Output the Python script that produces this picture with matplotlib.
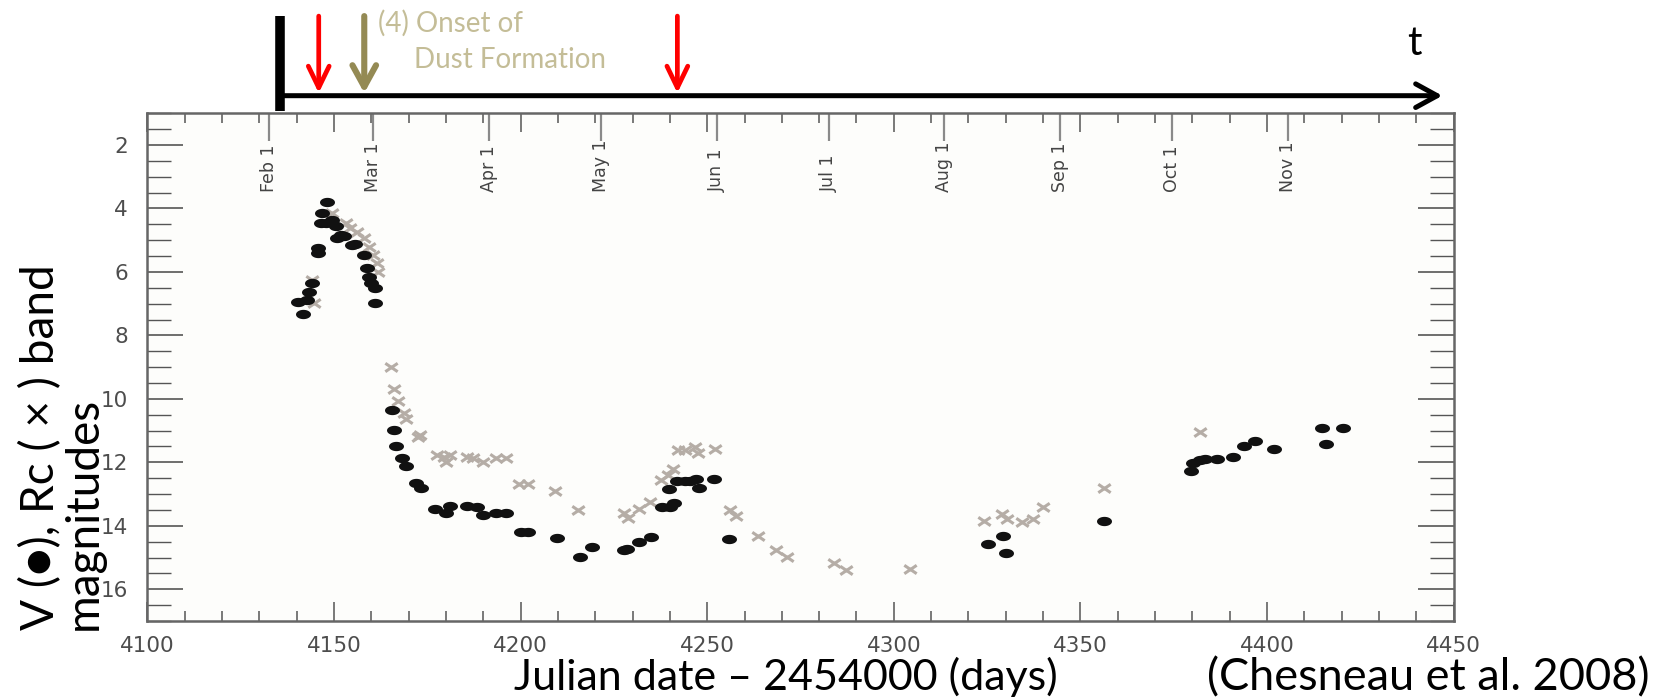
import numpy as np
import matplotlib
matplotlib.use("Agg")
import matplotlib.pyplot as plt
import matplotlib.transforms as mtransforms
from matplotlib.path import Path
from matplotlib.lines import Line2D
from matplotlib.patches import FancyArrowPatch
from matplotlib.ticker import MultipleLocator

# V band (filled dots): Julian date - 2454000, magnitude
v_days = [4140.4, 4141.8, 4142.8, 4143.2, 4144.0, 4145.6, 4145.8, 4146.6, 4146.8,
          4148.2, 4147.8, 4149.5, 4150.4, 4150.9, 4151.8, 4152.8, 4154.7, 4155.6,
          4158.1, 4158.8, 4159.5, 4160.0, 4161.1, 4161.1,
          4165.4, 4166.2, 4166.7, 4168.3, 4169.3, 4171.9, 4173.4, 4177.0, 4180.1,
          4181.1, 4185.7, 4188.3, 4189.8, 4193.4, 4196.0, 4200.1, 4202.1, 4209.8,
          4216.0, 4219.0, 4227.7, 4228.6, 4231.8, 4234.9, 4237.8, 4240.0, 4241.1,
          4239.8, 4241.8, 4244.0, 4245.5, 4247.0, 4247.8, 4251.9, 4255.9,
          4325.3, 4329.2, 4330.1, 4356.3,
          4379.7, 4380.2, 4382.0, 4383.3, 4386.7, 4390.9, 4393.8, 4396.8, 4401.8,
          4414.7, 4415.7, 4420.4]
v_mag = [6.94, 7.33, 6.88, 6.62, 6.34, 5.25, 5.41, 4.47, 4.15,
         3.79, 4.45, 4.36, 4.55, 4.94, 4.85, 4.87, 5.15, 5.12,
         5.47, 5.89, 6.15, 6.34, 6.52, 6.97,
         10.35, 10.98, 11.49, 11.85, 12.12, 12.64, 12.80, 13.48, 13.61,
         13.37, 13.37, 13.42, 13.66, 13.59, 13.59, 14.20, 14.20, 14.39,
         14.97, 14.68, 14.76, 14.74, 14.52, 14.34, 13.42, 13.42, 13.27,
         12.85, 12.58, 12.58, 12.58, 12.53, 12.82, 12.54, 14.42,
         14.56, 14.31, 14.87, 13.85,
         12.26, 12.03, 11.93, 11.90, 11.89, 11.83, 11.48, 11.34, 11.59,
         10.91, 11.42, 10.91]

# Rc band (crosses)
rc_days = [4144.2, 4144.7, 4149.5, 4153.3, 4154.3, 4156.2, 4158.1, 4159.5, 4160.5,
           4161.4, 4161.9,
           4165.2, 4166.2, 4167.2, 4168.8, 4169.3, 4172.4, 4173.0, 4177.5, 4179.5,
           4180.1, 4181.1, 4185.7, 4187.2, 4189.8, 4193.4, 4196.0, 4199.6, 4202.1,
           4209.3, 4215.4, 4227.7, 4228.9, 4231.8, 4234.8, 4237.7, 4239.6, 4240.8,
           4242.2, 4244.0, 4246.7, 4247.6, 4252.0, 4256.0, 4257.7, 4263.5, 4268.5,
           4271.4, 4284.0, 4287.3, 4304.3, 4324.3, 4328.9, 4330.4, 4334.3, 4337.3,
           4340.1, 4356.3, 4382.0]
rc_mag = [6.25, 6.99, 4.15, 4.47, 4.62, 4.73, 4.94, 5.20, 5.47,
          5.73, 5.99,
          9.00, 9.70, 10.06, 10.44, 10.65, 11.21, 11.15, 11.77, 11.82,
          11.98, 11.77, 11.82, 11.87, 11.98, 11.87, 11.87, 12.68, 12.68,
          12.89, 13.50, 13.60, 13.76, 13.48, 13.24, 12.55, 12.40, 12.22,
          11.61, 11.61, 11.51, 11.70, 11.59, 13.51, 13.69, 14.31, 14.76,
          14.97, 15.18, 15.39, 15.37, 13.84, 13.63, 13.80, 13.87, 13.80,
          13.40, 12.82, 11.06]

# calendar marks (2007) on the top axis
month_days = [4132.5, 4160.5, 4191.5, 4221.5, 4252.5, 4282.5, 4313.5, 4344.5, 4374.5, 4405.5]
month_labels = ["Feb 1", "Mar 1", "Apr 1", "May 1", "Jun 1", "Jul 1", "Aug 1",
                "Sep 1", "Oct 1", "Nov 1"]

# time arrow above the plot
timeline_start = 4135.6
timeline_end = 4447.0
red_events = [4145.9, 4242.0]
dust_onset = 4158.1

slide_font = ["Lato", "Noto Sans CJK JP", "DejaVu Sans"]
tan = "#c4bd97"
olive = "#948a54"

fig = plt.figure(figsize=(16.66, 7.0), dpi=100)
ax = fig.add_axes([0.0885, 0.1129, 0.784, 0.7253])
ax.set_facecolor("#fdfdfb")

# stretched marker shapes (the original figure is wider than tall)
t = np.linspace(0, 2 * np.pi, 40)
dot = Path(np.column_stack([np.cos(t), 0.62 * np.sin(t)]), closed=True)
cross = Path([(-1, -0.68), (1, 0.68), (-1, 0.68), (1, -0.68)],
             [Path.MOVETO, Path.LINETO, Path.MOVETO, Path.LINETO])

ax.plot(rc_days, rc_mag, linestyle="none", marker=cross, ms=8.9, mew=2.2,
        color="#b5ada6")
ax.plot(v_days, v_mag, linestyle="none", marker=dot, ms=10.8, mew=0,
        color="#111111")

ax.set_xlim(4100, 4450)
ax.set_ylim(17.0, 1.0)
ax.xaxis.set_major_locator(MultipleLocator(50))
ax.xaxis.set_minor_locator(MultipleLocator(10))
ax.yaxis.set_major_locator(MultipleLocator(2))
ax.yaxis.set_minor_locator(MultipleLocator(0.5))

for s in ax.spines.values():
    s.set_color("#666666")
    s.set_linewidth(1.8)

ax.tick_params(axis="x", which="major", direction="in", length=13.4, width=1.1,
               top=True, bottom=True, color="#555555", labelsize=15.5,
               labelcolor="#4d4d4d", pad=11)
ax.tick_params(axis="x", which="minor", direction="in", length=7.4, width=1.1,
               top=True, bottom=True, color="#555555")
ax.tick_params(axis="y", which="major", direction="in", length=25.7, width=1.2,
               left=True, right=True, color="#555555", labelsize=15.5,
               labelcolor="#4d4d4d", pad=14)
ax.tick_params(axis="y", which="minor", direction="in", length=17, width=1.0,
               left=True, right=True, color="#555555")

sec = ax.secondary_xaxis("top")
sec.set_xticks(month_days, month_labels)
sec.tick_params(direction="in", length=20, width=1.6, color="#8a8a8a",
                labelrotation=90, labelsize=12.5, labelcolor="#444444", pad=-57)
sec.spines["top"].set_visible(False)

# axis titles (slide text)
fig.text(62 / 1666, 0.1, "V (\u25CF), Rc ( \u00D7 ) band\nmagnitudes", rotation=90,
         ha="center", va="bottom", multialignment="left", fontsize=33,
         family=slide_font, linespacing=1.0)
fig.text(786 / 1666, 1 - 690 / 700, "Julian date \u2013 2454000 (days)",
         ha="center", va="baseline", fontsize=31, family=slide_font)
fig.text(1428 / 1666, 1 - 690 / 700, "(Chesneau et al. 2008)",
         ha="center", va="baseline", fontsize=32.5, family=slide_font)

# time arrow with event markers
trans = mtransforms.blended_transform_factory(ax.transData, fig.transFigure)
fig.add_artist(Line2D([timeline_start, timeline_start], [0.977, 0.842], transform=trans,
                      lw=6.9, color="black", solid_capstyle="butt"))
fig.add_artist(FancyArrowPatch((timeline_start, 0.8633), (timeline_end, 0.8633),
                               transform=trans, arrowstyle="->,head_length=1.55,head_width=0.85",
                               mutation_scale=10, lw=3.6, color="black",
                               shrinkA=0, shrinkB=0))
for d in red_events:
    fig.add_artist(FancyArrowPatch((d, 0.977), (d, 0.867), transform=trans,
                                   arrowstyle="->,head_length=1.55,head_width=0.75",
                                   mutation_scale=10, lw=3.4, color="#ff0000",
                                   shrinkA=0, shrinkB=0))
fig.add_artist(FancyArrowPatch((dust_onset, 0.977), (dust_onset, 0.867), transform=trans,
                               arrowstyle="->,head_length=1.55,head_width=0.85",
                               mutation_scale=10, lw=4.4, color=olive,
                               shrinkA=0, shrinkB=0))

fig.text(377.6 / 1666, 1 - 31.5 / 700, "(4) Onset of", fontsize=20, color=tan,
         family=slide_font, ha="left", va="baseline")
fig.text(414 / 1666, 1 - 68.3 / 700, "Dust Formation", fontsize=20, color=tan,
         family=slide_font, ha="left", va="baseline")
fig.text(1414 / 1666, 1 - 55 / 700, "t", fontsize=29, family=slide_font,
         ha="center", va="baseline")

# bottom of a text line cut off by the top edge of the slide
fig.text(1181 / 1666, 1 + 6 / 700, "(5)", fontsize=29, family=slide_font,
         ha="left", va="baseline")
fig.text(1636 / 1666, 1 + 6 / 700, "),", fontsize=29, family=slide_font,
         ha="left", va="baseline")

fig.savefig("out.png", dpi=100)
